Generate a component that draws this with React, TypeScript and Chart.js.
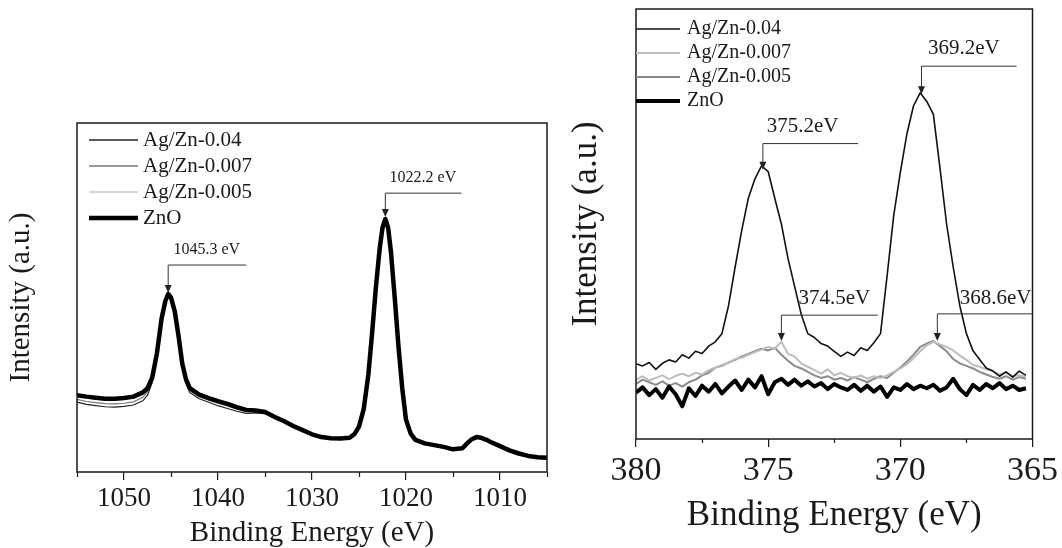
import React, { useEffect, useRef } from "react";
import { Chart, registerables } from "chart.js";

Chart.register(...registerables);

const FONT = '"Liberation Serif", "Times New Roman", Times, serif';

// ---------- Left panel (Zn 2p) ----------
const LEFT_ENERGY = [
  1055, 1054, 1053, 1052, 1051, 1050, 1049, 1048, 1047.5, 1047,
  1046.5, 1046, 1045.6, 1045.3, 1045, 1044.6, 1044.2, 1043.8, 1043.4, 1043,
  1042, 1041, 1040, 1039, 1038, 1037, 1036, 1035, 1034, 1033,
  1032, 1031, 1030, 1029, 1028, 1027, 1026, 1025.5, 1025, 1024.5,
  1024, 1023.6, 1023.2, 1022.8, 1022.5, 1022.2, 1021.9, 1021.6, 1021.2, 1020.8,
  1020.4, 1020, 1019.5, 1019, 1018, 1017, 1016, 1015, 1014, 1013.5,
  1013, 1012.5, 1012, 1011.5, 1011, 1010, 1009, 1008, 1007, 1006, 1005,
];
const LEFT_AGZN_004 = [
  20.0, 19.4, 19.0, 18.7, 18.6, 18.8, 19.2, 20.4, 22.0, 25.6,
  33.4, 43.8, 49.0, 51.0, 50.2, 46.0, 38.6, 30.2, 25.4, 22.8,
  21.0, 20.0, 19.0, 18.2, 17.4, 16.8, 16.9, 16.7, 15.5, 14.4,
  13.1, 11.9, 10.7, 9.9, 9.6, 9.5, 9.7, 10.6, 13.2, 18.4,
  28.4, 40.4, 53.2, 64.0, 70.0, 72.4, 70.0, 63.2, 50.2, 36.0,
  24.2, 15.2, 11.1, 9.3, 8.3, 7.8, 7.2, 6.6, 6.9, 8.1,
  9.3, 10.0, 9.8, 9.3, 8.6, 7.4, 6.3, 5.4, 4.6, 4.3, 4.2,
];
const LEFT_AGZN_0007 = [
  20.8, 20.2, 19.9, 19.6, 19.5, 19.7, 20.1, 21.4, 23.0, 26.4,
  33.8, 44.0, 49.0, 51.0, 50.0, 46.0, 38.8, 30.6, 25.9, 23.4,
  21.6, 20.6, 19.7, 18.9, 18.0, 17.3, 17.2, 17.0, 15.7, 14.5,
  13.2, 12.0, 10.8, 10.0, 9.7, 9.6, 9.8, 10.7, 13.0, 18.2,
  28.2, 40.2, 53.0, 64.0, 70.0, 72.4, 70.0, 63.0, 50.0, 36.0,
  24.0, 15.0, 11.0, 9.2, 8.2, 7.7, 7.2, 6.5, 6.8, 8.2,
  9.4, 10.0, 9.8, 9.3, 8.6, 7.4, 6.2, 5.3, 4.6, 4.2, 4.1,
];
const LEFT_AGZN_0005 = [
  21.6, 21.2, 20.9, 20.7, 20.6, 20.8, 21.1, 22.2, 23.6, 26.8,
  34.0, 44.0, 49.0, 51.0, 50.0, 46.0, 39.0, 31.0, 26.3, 23.8,
  22.0, 21.0, 20.1, 19.3, 18.4, 17.6, 17.5, 17.1, 15.8, 14.6,
  13.2, 12.0, 10.8, 10.0, 9.7, 9.6, 9.8, 10.8, 13.0, 18.0,
  28.0, 40.0, 53.0, 64.0, 70.0, 72.5, 70.0, 63.0, 50.0, 36.0,
  24.0, 15.0, 11.0, 9.2, 8.2, 7.7, 7.2, 6.5, 6.8, 8.2,
  9.4, 10.0, 9.8, 9.3, 8.6, 7.4, 6.2, 5.3, 4.6, 4.2, 4.1,
];
const LEFT_ZNO = [
  22.0, 21.6, 21.3, 21.0, 21.0, 21.2, 21.6, 22.8, 24.0, 27.0,
  34.0, 44.0, 49.0, 51.0, 50.0, 46.0, 39.0, 31.0, 26.5, 24.0,
  22.2, 21.2, 20.3, 19.5, 18.6, 17.8, 17.6, 17.2, 15.8, 14.6,
  13.2, 12.0, 10.8, 10.0, 9.7, 9.6, 9.8, 10.8, 13.0, 18.0,
  28.0, 40.0, 53.0, 64.0, 70.0, 72.5, 70.0, 63.0, 50.0, 36.0,
  24.0, 15.0, 11.0, 9.2, 8.2, 7.7, 7.2, 6.5, 6.8, 8.2,
  9.4, 10.0, 9.8, 9.3, 8.6, 7.4, 6.2, 5.3, 4.6, 4.2, 4.1,
];
const LEFT_MAJOR_TICKS = [1050, 1040, 1030, 1020, 1010];
const LEFT_MINOR_TICKS = [1055, 1045, 1035, 1025, 1015, 1005];
const LEFT_PEAKS = [1045.3, 1022.2];
const LEFT_TIPS = [51.3, 73.1];
const LEFT_BRACKET_Y = [59.3, 79.9];
const LEFT_BRACKET_END = [1037.0, 1014.1];
const LEFT_LABELS = ["1045.3 eV", "1022.2 eV"];
const LEFT_LABEL_X = [1041.2, 1018.2];
const LEFT_LABEL_Y = [63.6, 84.2];

// ---------- Right panel (Ag 3d) ----------
const RIGHT_ENERGY = [
  380, 379.75, 379.5, 379.25, 379, 378.75, 378.5, 378.25, 378, 377.75,
  377.5, 377.25, 377, 376.75, 376.5, 376.25, 376, 375.75, 375.5, 375.25,
  375, 374.75, 374.5, 374.25, 374, 373.75, 373.5, 373.25, 373, 372.75,
  372.5, 372.25, 372, 371.75, 371.5, 371.25, 371, 370.75, 370.5, 370.25,
  370, 369.75, 369.5, 369.25, 369, 368.75, 368.5, 368.25, 368, 367.75,
  367.5, 367.25, 367, 366.75, 366.5, 366.25, 366, 365.75, 365.5, 365.25,
];
const RIGHT_AGZN_004 = [
  17.5, 17.0, 17.8, 16.2, 17.6, 18.4, 17.9, 19.6, 18.8, 20.4,
  19.9, 21.6, 22.6, 24.5, 31.0, 40.0, 48.5, 56.0, 60.5, 63.5,
  62.2, 56.0, 50.0, 42.0, 35.5, 29.0, 24.5, 23.6, 22.2, 21.6,
  20.4, 19.2, 20.2, 19.4, 21.2, 20.6, 22.4, 24.5, 38.0, 52.0,
  62.0, 71.0, 77.5, 80.5, 78.5, 75.5, 63.0, 50.0, 40.0, 31.0,
  24.5, 20.5, 18.5, 16.5, 15.8, 14.6, 15.6, 14.4, 15.8, 14.8,
];
const RIGHT_AGZN_0007 = [
  13.8, 14.6, 13.6, 14.2, 14.8, 13.9, 14.7, 15.2, 14.6, 15.4,
  15.0, 16.0, 16.6, 17.2, 17.8, 18.6, 18.9, 19.6, 20.2, 20.8,
  21.4, 21.0, 22.6, 19.8, 19.2, 17.6, 16.8, 16.0, 15.2, 16.2,
  14.8, 15.4, 14.6, 14.2, 14.8, 14.0, 14.6, 14.2, 14.8, 15.6,
  16.4, 17.4, 18.8, 20.4, 21.8, 22.6, 22.0, 21.4, 20.6, 19.4,
  18.4, 17.2, 16.8, 16.2, 15.8, 15.0, 15.4, 14.6, 14.8, 14.4,
];
const RIGHT_AGZN_0005 = [
  12.8, 13.8, 13.2, 12.6, 13.4, 12.4, 13.0, 12.2, 13.2, 13.8,
  14.8, 15.4, 16.6, 17.0, 17.8, 18.4, 19.2, 19.8, 20.4, 21.0,
  20.6, 21.2, 19.6, 18.2, 17.0, 16.4, 15.6, 14.8, 14.2, 14.6,
  13.8, 14.2, 13.6, 14.4, 13.8, 13.2, 14.0, 14.6, 14.2, 15.4,
  16.6, 18.0, 19.6, 21.4, 22.2, 22.8, 21.6, 20.4, 18.6, 17.6,
  17.0, 16.4, 15.6, 15.0, 14.4, 14.0, 14.6, 13.8, 14.4, 14.0,
];
const RIGHT_ZNO = [
  10.8, 12.0, 10.2, 11.6, 9.6, 12.2, 10.4, 7.6, 11.8, 10.0,
  12.4, 11.0, 12.8, 10.6, 12.2, 13.6, 11.4, 13.8, 12.0, 14.6,
  10.4, 13.2, 14.0, 12.6, 13.8, 12.4, 13.4, 12.2, 13.0, 11.6,
  12.8, 12.0, 11.4, 12.6, 11.2, 12.4, 11.0, 12.2, 9.8, 12.0,
  11.4, 12.8, 11.6, 12.4, 11.8, 12.6, 11.2, 12.0, 14.0, 11.6,
  10.2, 12.6, 11.4, 12.8, 11.8, 13.0, 11.6, 12.4, 11.4, 11.8,
];
const RIGHT_MAJOR_TICKS = [380, 375, 370, 365];
const RIGHT_MINOR_TICKS = [377.5, 372.5, 367.5];
const RIGHT_PEAKS = [375.2, 369.2, 374.5, 368.6];
const RIGHT_TIPS = [62.6, 80.2, 22.8, 22.8];
const RIGHT_BRACKET_Y = [68.7, 86.7, 28.8, 29.1];
const RIGHT_BRACKET_END = [371.6, 365.6, 370.85, 365.0];
const RIGHT_LABELS = ["375.2eV", "369.2eV", "374.5eV", "368.6eV"];
const RIGHT_LABEL_X = [373.7, 367.6, 372.5, 366.4];
const RIGHT_LABEL_Y = [72.6, 90.9, 32.6, 32.6];

const SERIES_NAMES = ["Ag/Zn-0.04", "Ag/Zn-0.007", "Ag/Zn-0.005", "ZnO"];

function pts(xs: number[], ys: number[]) {
  return xs.map((x, i) => ({ x, y: ys[i] }));
}

type Style = { color: string; width: number };

function decorPlugin(cfg: {
  minor: number[];
  minorLen: number;
  styles: Style[];
  legend: { x0: number; x1: number; tx: number; y0: number; dy: number; size: number };
  ann: {
    peaks: number[]; tips: number[]; by: number[]; bend: number[];
    labels: string[]; lx: number[]; ly: number[]; size: number;
  };
}) {
  return {
    id: "decor",
    afterDraw(chart: any) {
      const { ctx, chartArea: a, scales } = chart;
      const xs = scales.x;
      const ys = scales.y;
      ctx.save();
      ctx.strokeStyle = "#1a1a1a";
      ctx.lineWidth = 1.5;
      ctx.strokeRect(a.left, a.top, a.right - a.left, a.bottom - a.top);
      ctx.lineWidth = 1.2;
      cfg.minor.forEach((v) => {
        const px = Math.round(xs.getPixelForValue(v)) + 0.5;
        ctx.beginPath();
        ctx.moveTo(px, a.bottom);
        ctx.lineTo(px, a.bottom + cfg.minorLen);
        ctx.stroke();
      });
      const L = cfg.legend;
      ctx.font = `${L.size}px ${FONT}`;
      ctx.textBaseline = "middle";
      ctx.textAlign = "left";
      SERIES_NAMES.forEach((name, i) => {
        const y = a.top + L.y0 + i * L.dy;
        ctx.strokeStyle = cfg.styles[i].color;
        ctx.lineWidth = Math.max(cfg.styles[i].width, 1.6);
        ctx.beginPath();
        ctx.moveTo(a.left + L.x0, y);
        ctx.lineTo(a.left + L.x1, y);
        ctx.stroke();
        ctx.fillStyle = "#1a1a1a";
        ctx.fillText(name, a.left + L.tx, y);
      });
      const A = cfg.ann;
      ctx.font = `${A.size}px ${FONT}`;
      ctx.textAlign = "center";
      A.peaks.forEach((p, i) => {
        const px = xs.getPixelForValue(p);
        const pe = xs.getPixelForValue(A.bend[i]);
        const py = ys.getPixelForValue(A.by[i]);
        const pt = ys.getPixelForValue(A.tips[i]);
        ctx.strokeStyle = "#333";
        ctx.lineWidth = 1;
        ctx.beginPath();
        ctx.moveTo(pe, py);
        ctx.lineTo(px, py);
        ctx.lineTo(px, pt - 6);
        ctx.stroke();
        ctx.fillStyle = "#222";
        ctx.beginPath();
        ctx.moveTo(px - 3.5, pt - 8);
        ctx.lineTo(px + 3.5, pt - 8);
        ctx.lineTo(px, pt);
        ctx.closePath();
        ctx.fill();
        ctx.fillStyle = "#1a1a1a";
        ctx.fillText(A.labels[i], xs.getPixelForValue(A.lx[i]), ys.getPixelForValue(A.ly[i]));
      });
      ctx.restore();
    },
  };
}

function makeConfig(opts: {
  energy: number[];
  series: number[][];
  styles: Style[];
  min: number;
  max: number;
  major: number[];
  minor: number[];
  pad: { top: number; right: number };
  yWidth: number;
  xHeight: number;
  tickSize: number;
  tickPad: number;
  tickLen: number;
  minorLen: number;
  titleSize: number;
  xTitlePadBottom: number;
  yTitlePadTop: number;
  legend: any;
  ann: any;
}) {
  return {
    type: "line" as const,
    data: {
      datasets: opts.series.map((s, i) => ({
        label: SERIES_NAMES[i],
        data: pts(opts.energy, s),
        borderColor: opts.styles[i].color,
        borderWidth: opts.styles[i].width,
        pointRadius: 0,
        fill: false,
        tension: 0,
        borderJoinStyle: "round" as const,
        order: i === 3 ? -1 : i,
      })),
    },
    options: {
      animation: false as const,
      responsive: false,
      maintainAspectRatio: false,
      layout: { padding: { top: opts.pad.top, right: opts.pad.right, left: 0, bottom: 0 } },
      plugins: { legend: { display: false }, tooltip: { enabled: false } },
      scales: {
        x: {
          type: "linear" as const,
          min: opts.min,
          max: opts.max,
          reverse: true,
          afterBuildTicks: (s: any) => {
            s.ticks = opts.major.map((v) => ({ value: v }));
          },
          afterFit: (s: any) => {
            s.height = opts.xHeight;
          },
          border: { display: false },
          grid: {
            drawOnChartArea: false,
            drawTicks: true,
            tickLength: opts.tickLen,
            color: "#1a1a1a",
            lineWidth: 1.2,
          },
          ticks: {
            padding: opts.tickPad,
            color: "#1a1a1a",
            autoSkip: false,
            maxRotation: 0,
            font: { family: FONT, size: opts.tickSize },
            callback: (v: any) => String(v),
          },
          title: {
            display: true,
            text: "Binding Energy (eV)",
            color: "#1a1a1a",
            font: { family: FONT, size: opts.titleSize, lineHeight: 1 },
            padding: { top: 0, bottom: opts.xTitlePadBottom },
          },
        },
        y: {
          type: "linear" as const,
          min: 0,
          max: 100,
          afterFit: (s: any) => {
            s.width = opts.yWidth;
          },
          border: { display: false },
          grid: { display: false },
          ticks: { display: false },
          title: {
            display: true,
            text: "Intensity (a.u.)",
            color: "#1a1a1a",
            font: { family: FONT, size: opts.titleSize, lineHeight: 1 },
            padding: { top: opts.yTitlePadTop, bottom: 0 },
          },
        },
      },
    },
    plugins: [
      decorPlugin({ minor: opts.minor, minorLen: opts.minorLen, styles: opts.styles, legend: opts.legend, ann: opts.ann }),
    ],
  };
}

const LEFT_STYLES: Style[] = [
  { color: "#222222", width: 1.2 },
  { color: "#777777", width: 1.2 },
  { color: "#c8c8c8", width: 1.2 },
  { color: "#000000", width: 4.5 },
];
const RIGHT_STYLES: Style[] = [
  { color: "#111111", width: 1.6 },
  { color: "#bdbdbd", width: 2 },
  { color: "#8a8a8a", width: 2 },
  { color: "#000000", width: 4 },
];

export default function App() {
  const leftRef = useRef<HTMLCanvasElement>(null);
  const rightRef = useRef<HTMLCanvasElement>(null);

  useEffect(() => {
    const left = new Chart(
      leftRef.current as HTMLCanvasElement,
      makeConfig({
        energy: LEFT_ENERGY,
        series: [LEFT_AGZN_004, LEFT_AGZN_0007, LEFT_AGZN_0005, LEFT_ZNO],
        styles: LEFT_STYLES,
        min: 1005,
        max: 1055,
        major: LEFT_MAJOR_TICKS,
        minor: LEFT_MINOR_TICKS,
        pad: { top: 23, right: 13 },
        yWidth: 77,
        xHeight: 76,
        tickSize: 27,
        tickPad: 3,
        tickLen: 8,
        minorLen: 5,
        titleSize: 29,
        xTitlePadBottom: 0,
        yTitlePadTop: 7,
        legend: { x0: 12, x1: 61, tx: 66, y0: 17, dy: 26, size: 21 },
        ann: {
          peaks: LEFT_PEAKS, tips: LEFT_TIPS, by: LEFT_BRACKET_Y, bend: LEFT_BRACKET_END,
          labels: LEFT_LABELS, lx: LEFT_LABEL_X, ly: LEFT_LABEL_Y, size: 16,
        },
      }) as any
    );
    const right = new Chart(
      rightRef.current as HTMLCanvasElement,
      makeConfig({
        energy: RIGHT_ENERGY,
        series: [RIGHT_AGZN_004, RIGHT_AGZN_0007, RIGHT_AGZN_0005, RIGHT_ZNO],
        styles: RIGHT_STYLES,
        min: 365,
        max: 380,
        major: RIGHT_MAJOR_TICKS,
        minor: RIGHT_MINOR_TICKS,
        pad: { top: 9, right: 28 },
        yWidth: 76,
        xHeight: 109,
        tickSize: 34,
        tickPad: 4,
        tickLen: 8,
        minorLen: 4,
        titleSize: 35,
        xTitlePadBottom: 15,
        yTitlePadTop: 9,
        legend: { x0: 0, x1: 44, tx: 51, y0: 20, dy: 24, size: 20 },
        ann: {
          peaks: RIGHT_PEAKS, tips: RIGHT_TIPS, by: RIGHT_BRACKET_Y, bend: RIGHT_BRACKET_END,
          labels: RIGHT_LABELS, lx: RIGHT_LABEL_X, ly: RIGHT_LABEL_Y, size: 21,
        },
      }) as any
    );
    return () => {
      left.destroy();
      right.destroy();
    };
  }, []);

  return (
    <div style={{ position: "absolute", left: 0, top: 0, width: 1062, height: 548, background: "#fff" }}>
      <canvas
        ref={leftRef}
        width={560}
        height={448}
        style={{ position: "absolute", left: 0, top: 100, width: 560, height: 448 }}
      />
      <canvas
        ref={rightRef}
        width={502}
        height={548}
        style={{ position: "absolute", left: 560, top: 0, width: 502, height: 548 }}
      />
    </div>
  );
}
